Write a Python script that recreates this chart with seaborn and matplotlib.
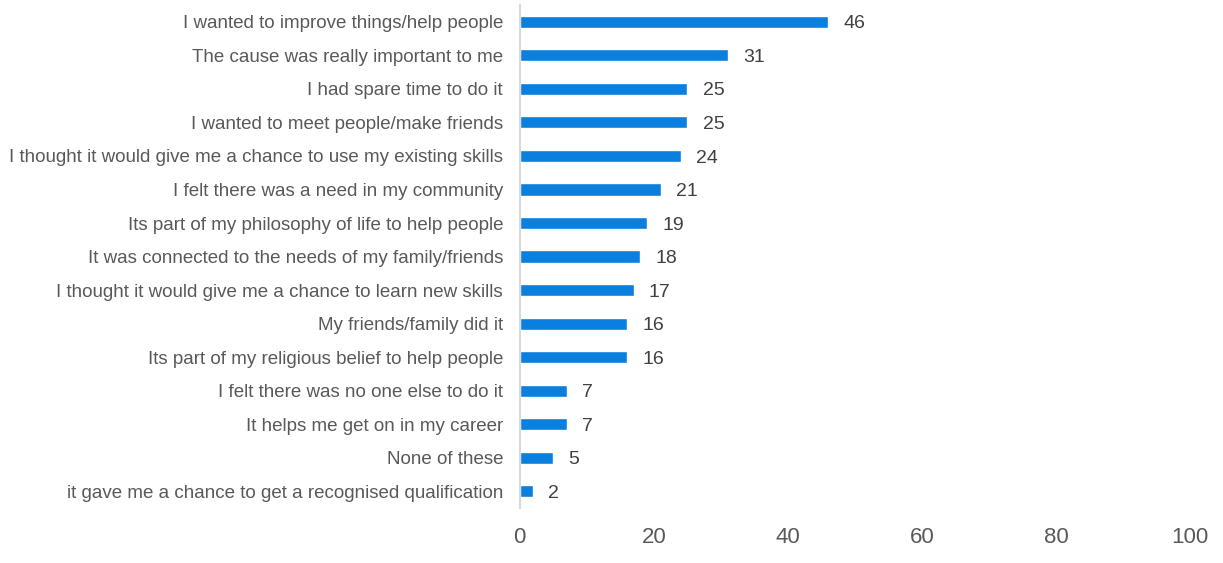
import matplotlib
matplotlib.use("Agg")
import matplotlib.pyplot as plt
import seaborn as sns
import pandas as pd

reasons = [
    "I wanted to improve things/help people",
    "The cause was really important to me",
    "I had spare time to do it",
    "I wanted to meet people/make friends",
    "I thought it would give me a chance to use my existing skills",
    "I felt there was a need in my community",
    "Its part of my philosophy of life to help people",
    "It was connected to the needs of my family/friends",
    "I thought it would give me a chance to learn new skills",
    "My friends/family did it",
    "Its part of my religious belief to help people",
    "I felt there was no one else to do it",
    "It helps me get on in my career",
    "None of these",
    "it gave me a chance to get a recognised qualification",
]
percent = [46, 31, 25, 25, 24, 21, 19, 18, 17, 16, 16, 7, 7, 5, 2]
x_ticks = [0, 20, 40, 60, 80, 100]

df = pd.DataFrame({"reason": reasons, "percent": percent})

sns.set_theme(style="white")
plt.rcParams["font.family"] = ["Liberation Sans", "DejaVu Sans"]

fig = plt.figure(figsize=(12.23, 5.63), dpi=100)
ax = fig.add_axes([0.425, 0.0977, 0.548, 0.8933])

sns.barplot(data=df, x="percent", y="reason", orient="h", color="#0B7FDD",
            saturation=1, width=0.36, ax=ax)

for i, v in enumerate(percent):
    ax.annotate(f"{v}", xy=(v, i), xytext=(11, -1.5), textcoords="offset points",
                va="center", ha="left", fontsize=14, color="#404040")

ax.set_xlim(0, 100)
ax.set_ylim(len(reasons) - 0.5, -0.5)
ax.set_xticks(x_ticks)
ax.set_xticklabels([str(t) for t in x_ticks], fontsize=16, color="#595959")
ax.tick_params(axis="x", length=0, pad=14)
ax.tick_params(axis="y", length=0, pad=12, labelsize=13.5, labelcolor="#595959")
ax.set_xlabel("")
ax.set_ylabel("")
for side in ["top", "right", "bottom"]:
    ax.spines[side].set_visible(False)
ax.spines["left"].set_color("#d9d9d9")
ax.spines["left"].set_linewidth(1.5)

fig.savefig("out.png", dpi=100)
